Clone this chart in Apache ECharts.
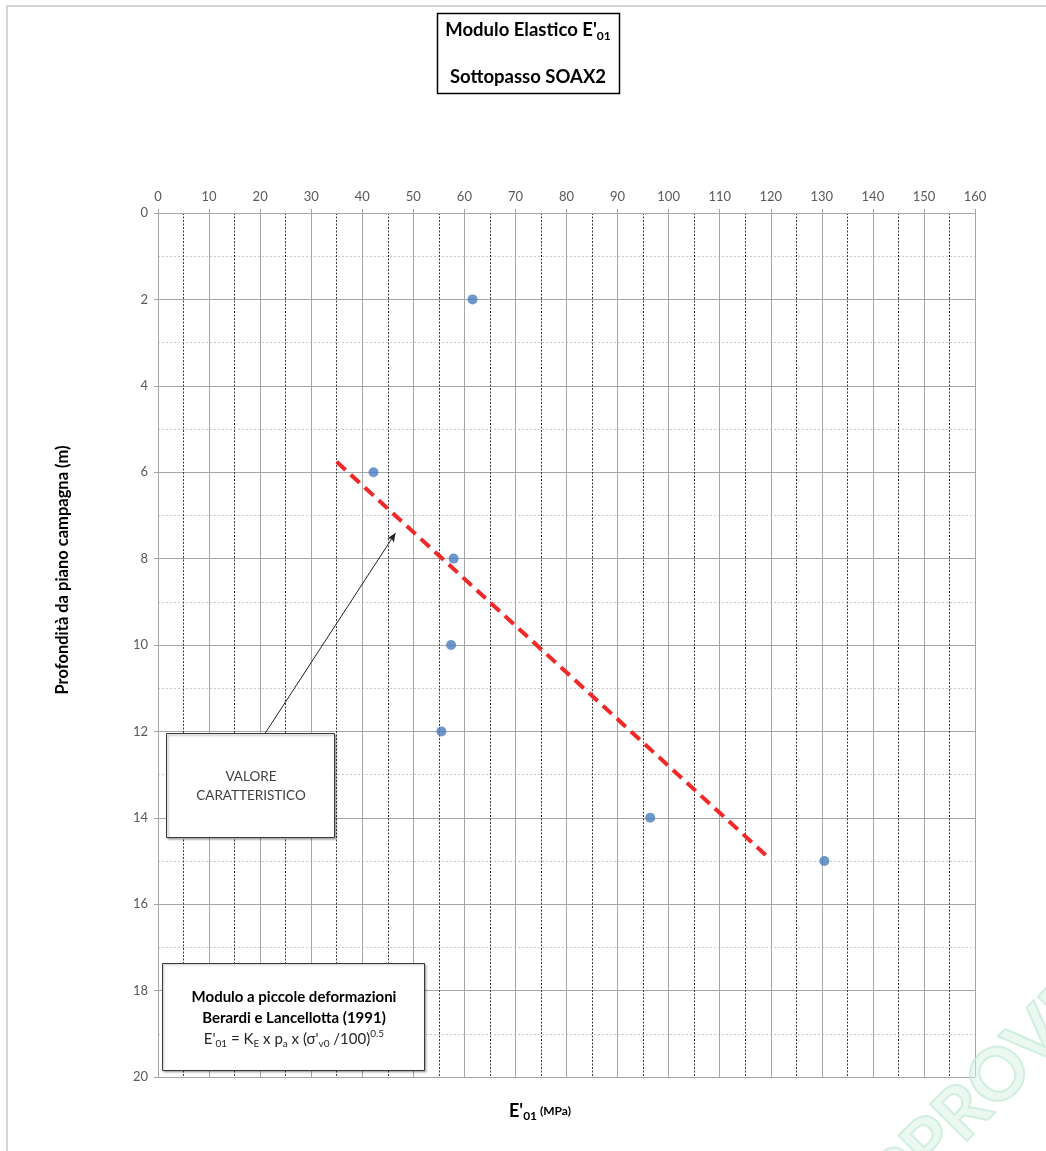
<!DOCTYPE html>
<html>
<head>
<meta charset="utf-8">
<script src="https://cdn.jsdelivr.net/npm/echarts@6/dist/echarts.min.js"></script>
<style>
html,body{margin:0;padding:0;background:#fff;}
#chart{width:1046px;height:1151px;}
</style>
</head>
<body>
<div id="chart"></div>
<script>
// ---- data ----
const depthM = [2, 6, 8, 10, 12, 14, 15];
const modulusMPa = [61.6, 42.2, 57.9, 57.4, 55.5, 96.4, 130.5];
const trendModulus = [35, 119];
const trendDepth = [5.76, 14.86];
const arrowFrom = [20.5, 12.13];
const arrowTo = [46.5, 7.41];
const xRange = [0, 160];
const yRange = [0, 20];

const FONT = 'Lato, "Open Sans", sans-serif';
const chart = echarts.init(document.getElementById('chart'), null, {renderer: 'canvas'});

const points = depthM.map((d, i) => [modulusMPa[i], d]);
const trend = trendModulus.map((m, i) => [m, trendDepth[i]]);

const gridLeft = 158, gridTop = 213, gridW = 817, gridH = 864;

chart.setOption({
  backgroundColor: '#ffffff',
  animation: false,
  grid: {left: gridLeft, top: gridTop, width: gridW, height: gridH, containLabel: false},
  xAxis: {
    type: 'value', position: 'top', min: xRange[0], max: xRange[1], interval: 10,
    axisLine: {show: true, onZero: false, lineStyle: {color: '#a6a6a6', width: 1}},
    axisTick: {show: true, length: 4, lineStyle: {color: '#a6a6a6'}},
    axisLabel: {color: '#595959', fontSize: 13, fontFamily: FONT, margin: 10},
    splitLine: {show: true, lineStyle: {color: '#a6a6a6', width: 1}},
    minorTick: {show: false, splitNumber: 2},
    minorSplitLine: {show: true, lineStyle: {color: '#3a3a3a', width: 1, type: [2, 1.5]}}
  },
  yAxis: {
    type: 'value', inverse: true, min: yRange[0], max: yRange[1], interval: 2,
    axisLine: {show: true, onZero: false, lineStyle: {color: '#a6a6a6', width: 1}},
    axisTick: {show: true, length: 4, lineStyle: {color: '#a6a6a6'}},
    axisLabel: {color: '#595959', fontSize: 13, fontFamily: FONT, margin: 10},
    splitLine: {show: true, lineStyle: {color: '#a6a6a6', width: 1}},
    minorTick: {show: false, splitNumber: 2},
    minorSplitLine: {show: true, lineStyle: {color: '#c8c8c8', width: 1, type: [2, 2]}}
  },
  series: [
    {
      type: 'line', data: trend, symbol: 'none', silent: true,
      lineStyle: {color: '#f02828', width: 4, type: [12, 7]}, z: 3
    },
    {
      type: 'scatter', data: points, symbol: 'circle', symbolSize: 10,
      itemStyle: {color: '#4a7ebf'}, z: 4
    },
    {
      type: 'line', data: [], silent: true,
      markLine: {
        silent: true, symbol: ['none', 'arrow'], symbolSize: [6, 9],
        label: {show: false},
        lineStyle: {color: '#222', width: 1, type: 'solid'},
        data: [[{coord: arrowFrom}, {coord: arrowTo}]]
      }
    }
  ],
  graphic: [
    {type: 'rect', shape: {x: 7, y: 6, width: 1200, height: 1300}, style: {fill: 'none', stroke: '#d4d4d4', lineWidth: 2}, silent: true, z: 0},
    // y axis title
    {type: 'text', x: 63, y: 570, rotation: Math.PI / 2, z: 11, style: {
      text: 'Profondità da piano campagna (m)', align: 'center', verticalAlign: 'middle',
      font: 'bold 16.5px ' + FONT, fill: '#000'
    }},
    // title box
    {type: 'rect', shape: {x: 437.5, y: 13.5, width: 182, height: 80}, style: {fill: '#fff', stroke: '#000', lineWidth: 1.5}, z: 10},
    {type: 'text', x: 528, y: 30, z: 11, style: {
      text: "Modulo Elastico E'{s|01}", align: 'center', verticalAlign: 'middle',
      font: 'bold 18.5px ' + FONT, fill: '#000',
      rich: {s: {fontSize: 12, fontWeight: 'bold', fontFamily: FONT, fill: '#000', lineHeight: 24, verticalAlign: 'bottom'}}
    }},
    {type: 'text', x: 528, y: 77, z: 11, style: {
      text: 'Sottopasso SOAX2', align: 'center', verticalAlign: 'middle',
      font: 'bold 18.5px ' + FONT, fill: '#000'
    }},
    // x axis title
    {type: 'text', x: 540, y: 1111, z: 11, style: {
      text: "{b|E'}{s|01}{m| (MPa)}", align: 'center', verticalAlign: 'middle',
      rich: {
        b: {fontSize: 18, fontWeight: 'bold', fontFamily: FONT, fill: '#000', lineHeight: 22, verticalAlign: 'middle'},
        s: {fontSize: 12, fontWeight: 'bold', fontFamily: FONT, fill: '#000', lineHeight: 22, verticalAlign: 'bottom'},
        m: {fontSize: 12, fontWeight: 'bold', fontFamily: FONT, fill: '#000', lineHeight: 22, verticalAlign: 'middle'}
      }
    }},
    // valore caratteristico box
    {type: 'rect', shape: {x: 166.5, y: 733.5, width: 168, height: 104}, style: {fill: '#fff', stroke: '#3a3a3a', lineWidth: 1, shadowColor: 'rgba(0,0,0,0.35)', shadowBlur: 2, shadowOffsetX: 1.5, shadowOffsetY: 1.5}, z: 10},
    {type: 'text', x: 251, y: 786, z: 11, style: {
      text: 'VALORE\nCARATTERISTICO', align: 'center', verticalAlign: 'middle',
      font: '13.5px ' + FONT, fill: '#404040', lineHeight: 19
    }},
    // formula box
    {type: 'rect', shape: {x: 162.5, y: 963.5, width: 262, height: 107}, style: {fill: '#fff', stroke: '#3a3a3a', lineWidth: 1, shadowColor: 'rgba(0,0,0,0.3)', shadowBlur: 2, shadowOffsetX: 1, shadowOffsetY: 1}, z: 10},
    {type: 'text', x: 294, y: 997, z: 11, style: {
      text: 'Modulo a piccole deformazioni', align: 'center', verticalAlign: 'middle',
      font: 'bold 15px ' + FONT, fill: '#000'
    }},
    {type: 'text', x: 294, y: 1018, z: 11, style: {
      text: 'Berardi e Lancellotta (1991)', align: 'center', verticalAlign: 'middle',
      font: 'bold 15px ' + FONT, fill: '#000'
    }},
    {type: 'text', x: 294, y: 1039, z: 11, style: {
      text: "{n|E'}{s|01}{n| = K}{s|E}{n| x p}{s|a}{n| x (σ'}{s|v0}{n| /100)}{p|0.5}", align: 'center', verticalAlign: 'middle',
      rich: {
        n: {fontSize: 15, fontFamily: FONT, fill: '#262626', lineHeight: 20, verticalAlign: 'middle'},
        s: {fontSize: 10, fontFamily: FONT, fill: '#262626', lineHeight: 20, verticalAlign: 'bottom'},
        p: {fontSize: 10, fontFamily: FONT, fill: '#262626', lineHeight: 20, verticalAlign: 'top'}
      }
    }},
    // watermark
    {type: 'text', x: 985, y: 1090, rotation: Math.PI / 4, z: 20, silent: true, style: {
      text: 'APPROVED', align: 'center', verticalAlign: 'middle',
      font: 'bold 72px ' + FONT, fill: 'rgba(215,242,229,0.5)', stroke: 'rgba(180,228,205,0.65)', lineWidth: 2
    }}
  ]
});
</script>
</body>
</html>
